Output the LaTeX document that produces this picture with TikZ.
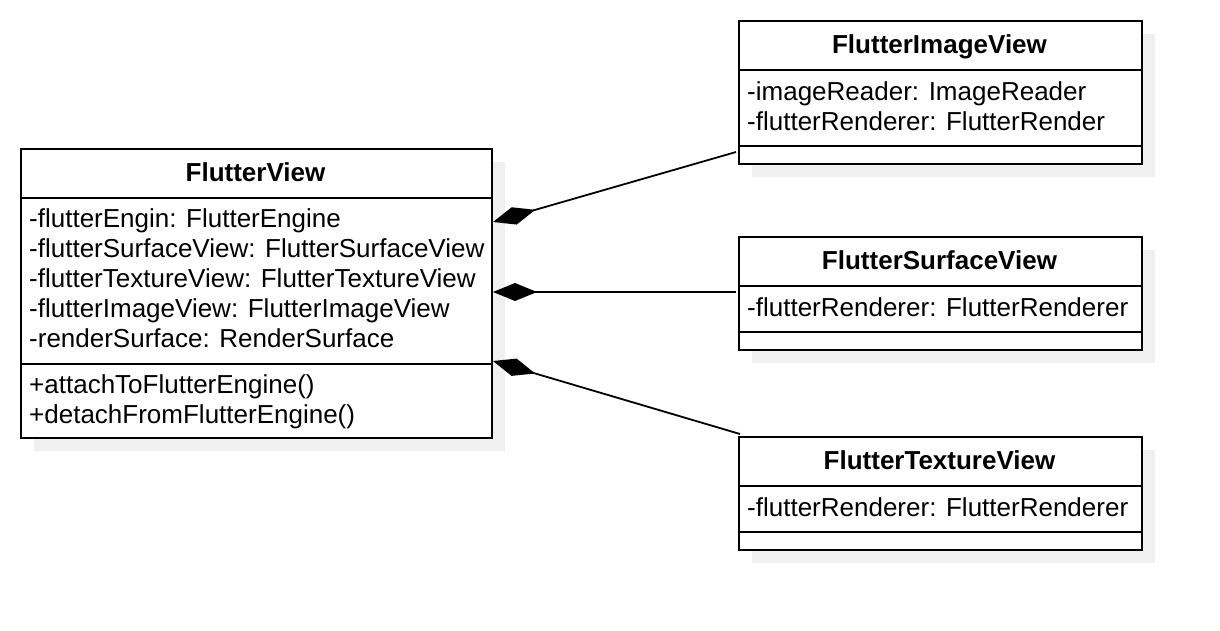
\documentclass[tikz,border=0pt]{standalone}
\usepackage{fontspec}
\setmainfont{Liberation Sans}
\usetikzlibrary{arrows.meta,calc}
\definecolor{shadowgray}{RGB}{240,240,240}
\tikzset{
  box/.style={draw=black, line width=2pt, fill=white, rectangle, inner sep=0pt, anchor=north west},
  shadowbox/.style={fill=shadowgray, draw=none, rectangle, inner sep=0pt, anchor=north west},
  divider/.style={line width=2pt},
  txt/.style={anchor=base west, inner sep=0pt, font=\fontsize{26}{30}\selectfont},
  ttl/.style={anchor=base, inner sep=0pt, font=\fontsize{26}{30}\selectfont\bfseries},
  comp/.style={line width=1.8pt, {Diamond[length=44pt,width=18pt]}-}
}
\begin{document}
\begin{tikzpicture}[x=1pt,y=-1pt]
\useasboundingbox (0,0) rectangle (1220,630);
% shadows
\node[shadowbox, minimum width=471pt, minimum height=289pt] (fvs) at (34,162) {};
\node[shadowbox, minimum width=403pt, minimum height=143pt] (ivs) at (752,34) {};
\node[shadowbox, minimum width=403pt, minimum height=113pt] (svs) at (752,250) {};
\node[shadowbox, minimum width=403pt, minimum height=113pt] (tvs) at (752,450) {};
% boxes
\node[box, minimum width=471pt, minimum height=289pt] (fv) at (20,148) {};
\node[box, minimum width=403pt, minimum height=143pt] (iv) at (738,20) {};
\node[box, minimum width=403pt, minimum height=113pt] (sv) at (738,236) {};
\node[box, minimum width=403pt, minimum height=113pt] (tv) at (738,436) {};
% dividers
\draw[divider] ($(fv.north west)+(0,50)$) -- ($(fv.north east)+(0,50)$);
\draw[divider] ($(fv.north west)+(0,216)$) -- ($(fv.north east)+(0,216)$);
\draw[divider] ($(iv.north west)+(0,50)$) -- ($(iv.north east)+(0,50)$);
\draw[divider] ($(iv.north west)+(0,126)$) -- ($(iv.north east)+(0,126)$);
\draw[divider] ($(sv.north west)+(0,50)$) -- ($(sv.north east)+(0,50)$);
\draw[divider] ($(sv.north west)+(0,96)$) -- ($(sv.north east)+(0,96)$);
\draw[divider] ($(tv.north west)+(0,50)$) -- ($(tv.north east)+(0,50)$);
\draw[divider] ($(tv.north west)+(0,96)$) -- ($(tv.north east)+(0,96)$);
% FlutterView texts
\node[ttl] (fvt) at (255.5,181) {FlutterView};
\node[txt] (fv1) at (29,227) {-flutterEngin: FlutterEngine};
\node[txt] (fv2) at (29,257) {-flutterSurfaceView: FlutterSurfaceView};
\node[txt] (fv3) at (29,287) {-flutterTextureView: FlutterTextureView};
\node[txt] (fv4) at (29,317) {-flutterImageView: FlutterImageView};
\node[txt] (fv5) at (29,347) {-renderSurface: RenderSurface};
\node[txt] (fv6) at (29,393) {+attachToFlutterEngine()};
\node[txt] (fv7) at (29,423) {+detachFromFlutterEngine()};
% FlutterImageView texts
\node[ttl] (ivt) at (939.5,53) {FlutterImageView};
\node[txt] (iv1) at (747,100) {-imageReader: ImageReader};
\node[txt] (iv2) at (747,130) {-flutterRenderer: FlutterRender};
% FlutterSurfaceView texts
\node[ttl] (svt) at (939.5,269) {FlutterSurfaceView};
\node[txt] (sv1) at (747,316) {-flutterRenderer: FlutterRenderer};
% FlutterTextureView texts
\node[ttl] (tvt) at (939.5,469) {FlutterTextureView};
\node[txt] (tv1) at (747,516) {-flutterRenderer: FlutterRenderer};
% connectors
\draw[comp] ($(fv.north east)+(0,74)$) -- ($(iv.north west)+(-2,132)$);
\draw[comp] ($(fv.north east)+(0,144)$) -- ($(sv.north west)+(-2,56)$);
\draw[comp] ($(fv.north east)+(0,213)$) -- ($(tv.north west)+(2,-2)$);
\end{tikzpicture}
\end{document}
